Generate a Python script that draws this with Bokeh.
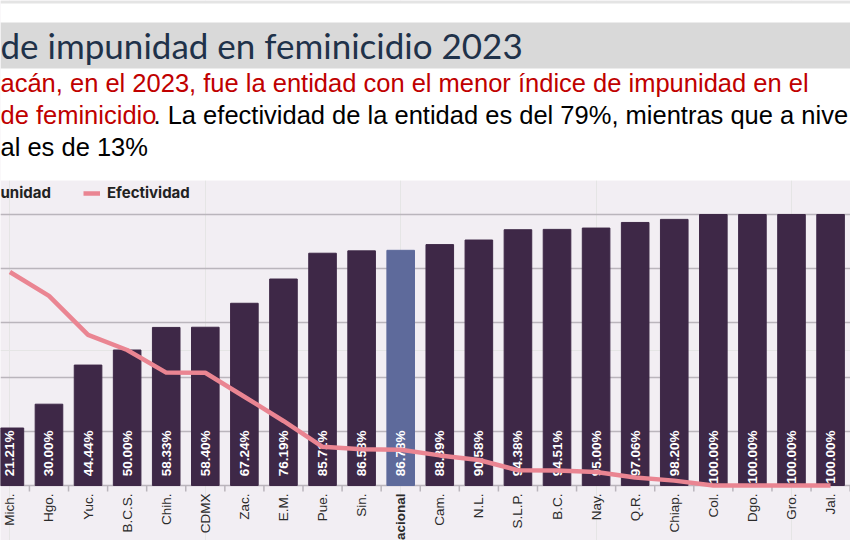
from math import pi
from bokeh.plotting import figure
from bokeh.models import (Range1d, Grid, FixedTicker, BoxAnnotation, Label, Legend,
                          LegendItem, ColumnDataSource)
from bokeh.core.properties import value
from bokeh.embed import file_html
from bokeh.resources import INLINE

# ---- data ----
categories = ["Mich.", "Hgo.", "Yuc.", "B.C.S.", "Chih.", "CDMX", "Zac.", "E.M.",
              "Pue.", "Sin.", "Nacional", "Cam.", "N.L.", "S.L.P.", "B.C.", "Nay.",
              "Q.R.", "Chiap.", "Col.", "Dgo.", "Gro.", "Jal."]
impunidad = [21.21, 30.00, 44.44, 50.00, 58.33, 58.40, 67.24, 76.19,
             85.71, 86.58, 86.78, 88.89, 90.58, 94.38, 94.51, 95.00,
             97.06, 98.20, 100.00, 100.00, 100.00, 100.00]
efectividad = [78.79, 70.00, 55.56, 50.00, 41.67, 41.60, 32.76, 23.81,
               14.29, 13.42, 13.22, 11.11, 9.42, 5.62, 5.49, 5.00,
               2.94, 1.80, 0.00, 0.00, 0.00, 0.00]
grid_ticks = [0, 20, 40, 60, 80, 100]

title_text = "de impunidad en feminicidio 2023"
sub1_red = "acán, en el 2023, fue la entidad con el menor índice de impunidad en el"
sub2_red = "de feminicidio"
sub2_black = ". La efectividad de la entidad es del 79%, mientras que a nive"
sub3_black = "al es de 13%"

# ---- styles ----
BAR = "#3E2847"
BAR_NAC = "#5E6A9B"
PINK = "#EA8592"
LAV = "#F2EEF3"
GRID = "#BAB5BC"

W, H = 850, 540
PX = 2.71          # pixels per percentage point
Y0 = 485           # canvas y of the 0 line
PITCH = 39.08
X0 = 9.4

def yc(c):  # canvas y -> data y
    return (Y0 - c) / PX

xs = list(range(len(categories)))
src = ColumnDataSource(dict(
    x=xs, cat=categories, imp=impunidad, ef=efectividad,
    lab=["%.2f%%" % v for v in impunidad],
    color=[BAR_NAC if c == "Nacional" else BAR for c in categories],
    style=["bold" if c == "Nacional" else "normal" for c in categories],
))

p = figure(width=W, height=H, output_backend="svg", toolbar_location=None,
           x_range=Range1d(-X0 / PITCH, -X0 / PITCH + W / PITCH),
           y_range=Range1d(yc(H), yc(0)),
           x_axis_location=None, y_axis_location=None, min_border=0)
p.outline_line_color = None
p.background_fill_color = LAV
p.border_fill_color = LAV

# header backgrounds
p.add_layout(BoxAnnotation(bottom=yc(180), fill_color="white", fill_alpha=1,
                           line_color=None, level="underlay"))
p.add_layout(BoxAnnotation(bottom=yc(3), fill_color="#E4E4E4", fill_alpha=1,
                           line_color=None, level="underlay"))
p.add_layout(BoxAnnotation(bottom=yc(68), top=yc(22), fill_color="#D9D9D9",
                           fill_alpha=1, line_color=None, level="underlay"))

grid = Grid(dimension=1, ticker=FixedTicker(ticks=grid_ticks),
            grid_line_color=GRID, grid_line_width=1.5)
p.add_layout(grid)

# bars
p.vbar(x="x", top="imp", bottom=0, width=0.706, color="color", source=src)

# boundary tick marks below the axis
bounds = [i - 0.5 for i in range(len(categories) + 1)]
p.segment(x0=bounds, x1=bounds, y0=[0] * len(bounds), y1=[-6 / PX] * len(bounds),
          line_color=GRID, line_width=1.5)

# value labels inside bars
p.text(x="x", y=yc(430), text="lab", source=src, angle=pi / 2,
       text_align="right", text_baseline="middle", text_color="white",
       text_font=value("Liberation Sans"), text_font_style="bold",
       text_font_size="13.5px")

# category labels
p.text(x="x", y=0, text="cat", source=src, angle=pi / 2, y_offset=8,
       text_align="right", text_baseline="middle", text_color="#2A2A2A",
       text_font=value("Liberation Sans"), text_font_style="style",
       text_font_size="13.5px")

# efectividad line
ln = p.line(x="x", y="ef", source=src, line_color=PINK, line_width=4.5,
            line_join="round")

legend = Legend(items=[LegendItem(label="Efectividad", renderers=[ln])],
                location=(83, H - 202), orientation="horizontal",
                padding=0, margin=0, glyph_width=17, glyph_height=14,
                label_height=14, label_standoff=7,
                label_text_font="Inter", label_text_font_style="bold",
                label_text_font_size="15px", label_text_color="#222222",
                border_line_color=None, background_fill_alpha=0)
p.add_layout(legend)

def lab(text, x, y, color, size, font, style="normal", baseline="alphabetic"):
    p.add_layout(Label(x=x, y=H - y, x_units="screen", y_units="screen",
                       text=text, text_color=color, text_font_size=size,
                       text_font=font, text_font_style=style,
                       text_baseline=baseline))

lab("unidad", 0, 192, "#222222", "15px", "Inter", "bold", "middle")
lab(title_text, 0, 44, "#1F324A", "35px", "Lato")
lab(sub1_red, 0, 82, "#C00000", "25.5px", "Liberation Sans")
lab(sub2_red, 0, 114, "#C00000", "25.5px", "Liberation Sans")
lab(sub2_black, 153, 114, "#000000", "25.5px", "Liberation Sans")
lab(sub3_black, 0, 146, "#000000", "25.5px", "Liberation Sans")

open("out.html", "w").write(file_html(p, INLINE))
